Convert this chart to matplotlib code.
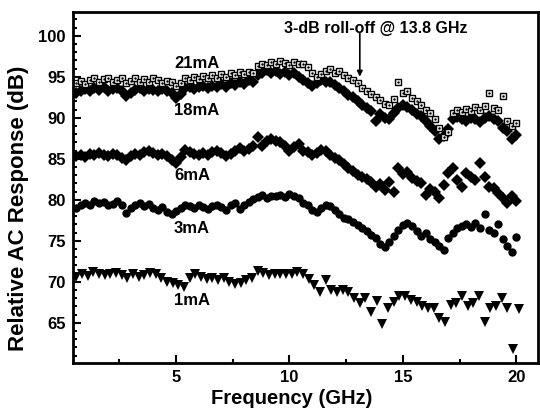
import numpy as np
import matplotlib
matplotlib.use('Agg')
import matplotlib.pyplot as plt
from matplotlib.ticker import MultipleLocator

plt.rcParams['font.family'] = ['Liberation Sans', 'DejaVu Sans']
plt.rcParams['font.weight'] = 'bold'

# frequency sweeps (GHz)
freq = np.round(np.arange(0.6, 20.01, 0.2), 2)
freq_1mA = np.round(np.arange(0.6, 20.11, 0.25), 2)

# measured response (dB), 10 points per 2 GHz
resp_21mA = [94.2, 94.5, 94.1, 94.6, 94.8, 94.4, 94.7, 94.9, 94.3, 94.6,
             94.8, 94.2, 94.5, 94.9, 94.3, 94.7, 94.4, 94.8, 94.6, 94.2,
             94.5, 94.3, 93.9, 94.2, 94.8, 94.6, 95.0, 94.7, 95.1, 94.8,
             95.2, 94.9, 95.3, 95.0, 95.5, 95.2, 95.6, 95.3, 95.6, 95.4,
             96.3, 96.6, 96.4, 96.8, 96.5, 96.9, 96.7, 96.4, 96.8, 96.5,
             96.6, 96.2, 95.4, 95.0, 95.3, 95.7, 95.9, 95.5, 95.7, 95.2,
             94.9, 94.6, 94.2, 93.6, 93.2, 92.9, 92.5, 92.1, 91.7, 91.5,
             92.3, 94.3, 93.0, 93.2, 92.4, 92.0, 91.6, 91.0, 90.6, 89.9,
             88.8, 87.7, 88.3, 90.6, 91.0, 90.7, 91.1, 90.8, 91.3, 91.0,
             91.4, 93.0, 91.2, 90.9, 92.6, 89.6, 89.0, 89.3]

resp_18mA = [93.0, 93.3, 93.5, 93.2, 93.6, 93.4, 93.7, 93.3, 93.5, 93.6,
             93.2, 92.7, 93.0, 93.4, 93.6, 93.3, 93.5, 93.4, 93.2, 93.5,
             93.3, 93.0, 92.4, 92.9, 93.6, 93.8, 93.5, 93.7, 93.9, 93.6,
             93.9, 93.7, 94.1, 93.8, 94.2, 94.0, 94.3, 94.1, 94.6, 94.4,
             95.2, 95.5, 95.8, 95.4, 95.7, 95.3, 95.6, 95.2, 95.5, 95.0,
             94.6, 94.2, 93.9, 94.2, 94.6, 94.4, 94.3, 94.0, 93.6, 93.2,
             92.8, 92.5, 92.0, 91.6, 91.2, 90.8, 89.6, 90.4, 90.0, 89.9,
             90.6, 91.2, 91.6, 91.3, 91.0, 90.5, 90.2, 89.6, 89.0, 88.4,
             87.4, 87.8, 88.6, 89.8, 90.1, 89.9, 89.6, 90.0, 89.8, 89.5,
             90.0, 90.2, 89.9, 89.6, 88.7, 88.4, 87.4, 87.9]

resp_6mA = [85.3, 85.5, 85.2, 85.6, 85.4, 85.7, 85.5, 85.3, 85.6, 85.4,
            85.1, 84.8, 85.3, 85.6, 85.4, 85.8, 86.0, 85.7, 85.5, 85.6,
            85.3, 84.9, 84.5, 85.2, 86.1, 85.8, 85.6, 85.4, 85.7, 85.5,
            85.8, 86.0, 85.7, 85.3, 85.6, 86.0, 86.3, 85.9, 86.2, 86.6,
            87.6, 86.6, 87.1, 87.4, 87.2, 87.0, 86.5, 86.0, 86.4, 86.8,
            86.0, 85.8, 85.5, 85.7, 86.1, 85.9, 85.5, 85.1, 84.9, 84.4,
            83.9, 83.5, 83.0, 82.8, 82.5, 82.1, 81.6, 81.9, 81.2, 82.2,
            80.9, 83.9, 83.1, 83.4, 82.6, 82.3, 82.0, 80.6, 81.3, 80.9,
            80.2, 81.8, 83.2, 83.9, 82.4, 81.6, 83.3, 82.8, 82.4, 84.5,
            82.8, 81.6, 81.4, 80.8, 80.2, 79.6, 80.4, 79.8]

resp_3mA = [79.0, 79.3, 79.6, 79.4, 79.8, 79.6, 79.7, 79.3, 79.5, 79.8,
            79.4, 78.4, 79.0, 79.3, 79.6, 79.2, 79.5, 79.0, 78.8, 79.1,
            78.5, 78.2, 78.6, 79.0, 79.4, 79.2, 79.0, 79.3, 79.1, 78.9,
            79.2, 79.4, 79.1, 78.8, 79.3, 79.6, 78.9, 79.4, 79.7, 80.1,
            80.3, 80.6, 80.2, 80.5, 80.4, 80.6, 80.3, 80.7, 80.5, 80.2,
            79.6, 79.3, 78.8, 78.5, 79.0, 79.4, 79.2, 78.7, 78.3, 77.8,
            77.6, 77.3, 76.9, 76.6, 76.2, 75.7, 75.3, 74.6, 74.2, 74.8,
            75.6, 76.3, 76.9, 77.2, 76.8, 76.2, 75.6, 76.0, 75.2, 74.8,
            74.3, 73.9, 75.3, 76.0, 76.5, 76.8, 77.0, 76.7, 77.2, 76.6,
            78.3, 76.3, 75.9, 77.0, 75.2, 74.4, 73.6, 75.4]

# 1mA sweep, 8 points per 2 GHz
resp_1mA = [70.6, 70.9, 70.7, 71.2, 71.0, 70.8, 70.9, 71.1,
            70.8, 70.5, 71.0, 70.6, 70.8, 71.1, 71.0, 70.4,
            70.0, 69.9, 69.6, 69.4, 70.4, 71.0, 70.6, 70.3,
            70.5, 70.2, 70.4, 70.0, 69.7, 69.9, 70.2, 70.5,
            71.3, 71.1, 70.8, 71.0, 70.9, 71.0, 70.9, 71.2,
            71.0, 70.3, 69.6, 68.7, 70.2, 69.0, 68.8, 69.0,
            68.8, 68.0, 67.4, 68.0, 66.3, 67.6, 64.8, 66.8,
            67.5, 68.3, 68.3, 67.8, 67.5, 67.0, 66.8, 66.8,
            65.6, 65.1, 67.2, 67.4, 68.3, 67.0, 67.4, 68.3,
            65.1, 66.8, 67.0, 68.0, 66.8, 61.8, 66.7]

labels = ['21mA', '18mA', '6mA', '3mA', '1mA']
label_pos = [(5.9, 96.6), (5.9, 90.9), (5.7, 82.9), (5.7, 76.5), (5.7, 67.7)]

rolloff_freq = 13.1
rolloff_text = '3-dB roll-off @ 13.8 GHz'

fig = plt.figure(figsize=(5.4, 4.11), dpi=100)
ax = fig.add_axes([0.135, 0.117, 0.861, 0.854])

ax.plot(freq, resp_18mA, 'D', color='black', markersize=6, markeredgewidth=0)
ax.plot(freq, resp_21mA, 's', markerfacecolor='white', markeredgecolor='black',
        markersize=5, markeredgewidth=1.0)
ax.plot(freq, resp_21mA, '.', color='black', markersize=1.5)
ax.plot(freq, resp_6mA, 'D', color='black', markersize=6, markeredgewidth=0)
ax.plot(freq, resp_3mA, 'o', color='black', markersize=6, markeredgewidth=0)
ax.plot(freq_1mA, resp_1mA, 'v', color='black', markersize=7, markeredgewidth=0)

for txt, (x, y) in zip(labels, label_pos):
    ax.text(x, y, txt, ha='center', va='center', fontsize=12, fontweight='bold')

# roll-off marker
ax.annotate('', xy=(rolloff_freq, 95.0), xytext=(rolloff_freq, 100.3),
            arrowprops=dict(arrowstyle='-|>', color='black', lw=1.2,
                            mutation_scale=8, shrinkA=0, shrinkB=0))
ax.text(13.8, 100.9, rolloff_text, ha='center', va='center',
        fontsize=11.5, fontweight='bold')

ax.set_xlim(0.45, 20.95)
ax.set_ylim(60.1, 102.9)
ax.xaxis.set_major_locator(MultipleLocator(5))
ax.xaxis.set_minor_locator(MultipleLocator(2.5))
ax.yaxis.set_major_locator(MultipleLocator(5))
ax.yaxis.set_minor_locator(MultipleLocator(1))
ax.set_yticks([65, 70, 75, 80, 85, 90, 95, 100])
ax.tick_params(which='both', direction='in', top=False, right=False,
               width=1.5, labelsize=12)
ax.tick_params(which='major', length=6, pad=5)
ax.tick_params(which='minor', length=3)
for lab in ax.get_xticklabels() + ax.get_yticklabels():
    lab.set_fontweight('bold')
for sp in ax.spines.values():
    sp.set_linewidth(2)

ax.set_xlabel('Frequency (GHz)', fontsize=14.5, fontweight='bold')
ax.set_ylabel('Relative AC Response (dB)', fontsize=16, fontweight='bold')
ax.xaxis.set_label_coords(0.47, -0.075)
ax.yaxis.set_label_coords(-0.095, 0.44)

plt.savefig('out.png', dpi=100)
